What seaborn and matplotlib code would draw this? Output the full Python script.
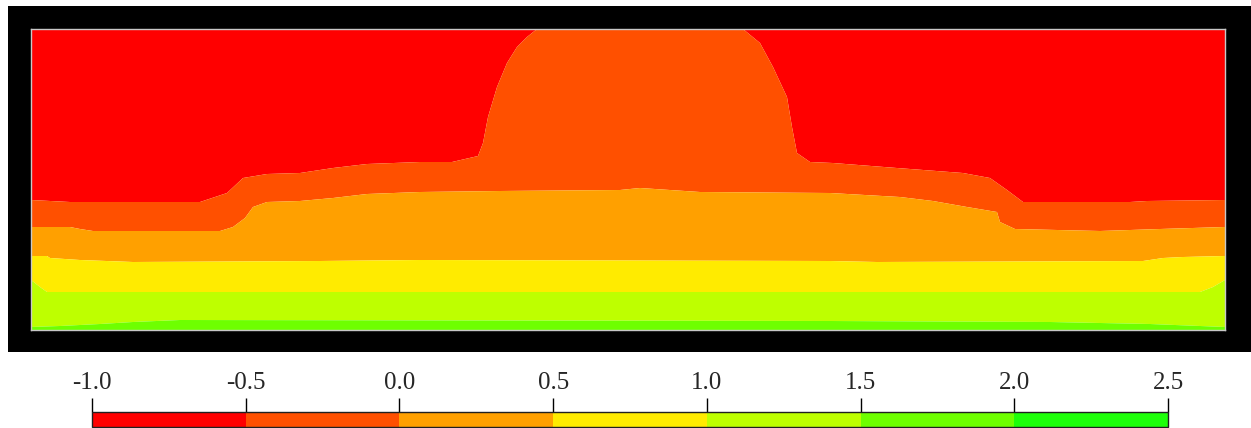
import matplotlib.pyplot as plt
import numpy as np
import seaborn as sns
from matplotlib.cm import ScalarMappable
from matplotlib.colors import BoundaryNorm, ListedColormap

# section extent (distance, depth)
SECTION_WIDTH = 119.4
SECTION_DEPTH = 30.1

LEVELS = [-1.0, -0.5, 0.0, 0.5, 1.0, 1.5, 2.0, 2.5]
BAND_COLORS = ["#ff0000", "#ff5000", "#ffa000", "#ffeb00", "#beff00", "#6eff00", "#1eff0a"]

# depth of each contour line along the section
c_m05_x = [0, 3.9, 16.9, 19.6, 21.2, 23.6, 26.9, 30.2, 33.6, 38.9, 42.1, 44.7, 45.2, 45.7,
           46.6, 47.6, 48.6, 49.6, 50.6, 71.2, 72.9, 74.2, 75.6, 76.1, 76.6, 77.9, 80.2,
           86.6, 93.2, 95.9, 97.6, 99.2, 109.9, 111.6, 119.4]
c_m05_d = [17.1, 17.3, 17.3, 16.4, 14.9, 14.5, 14.4, 13.9, 13.5, 13.3, 13.3, 12.7, 11.4, 8.8,
           5.8, 3.4, 1.8, 0.8, 0.0, 0.0, 1.4, 3.8, 6.8, 9.8, 12.4, 13.3, 13.4,
           13.9, 14.4, 14.9, 16.1, 17.3, 17.3, 17.2, 17.1]

c_0_x = [0, 3.9, 4.9, 6.2, 18.9, 20.2, 21.4, 22.2, 23.6, 26.9, 30.2, 33.6, 38.9, 46.9, 58.9,
         60.9, 63.9, 66.9, 79.9, 86.9, 90.2, 93.6, 96.6, 96.9, 98.4, 106.9, 112.9, 119.4]
c_0_d = [19.8, 19.8, 20.0, 20.2, 20.2, 19.8, 18.9, 17.8, 17.3, 17.2, 16.9, 16.5, 16.3, 16.2, 16.1,
         15.9, 16.1, 16.3, 16.4, 16.8, 17.2, 17.8, 18.3, 19.3, 20.0, 20.2, 20.0, 19.8]

c_05_x = [0, 1.6, 1.9, 4.9, 10.2, 28.9, 38.9, 79.9, 84.6, 111.2, 113.2, 115.2, 119.4]
c_05_d = [22.7, 22.7, 22.9, 23.1, 23.3, 23.2, 23.1, 23.2, 23.3, 23.2, 22.9, 22.8, 22.7]

c_10_x = [0, 0.9, 1.6, 116.9, 118.2, 119.4]
c_10_d = [25.1, 25.8, 26.3, 26.3, 25.8, 25.1]

c_15_x = [0, 2.9, 6.9, 10.2, 14.9, 79.9, 101.9, 111.9, 116.9, 119.4]
c_15_d = [29.8, 29.7, 29.5, 29.3, 29.1, 29.2, 29.3, 29.5, 29.7, 29.8]

sns.set_style("white")
plt.rcParams["font.family"] = ["Liberation Serif", "DejaVu Serif"]
plt.rcParams["axes.unicode_minus"] = False

W, H = 1251, 428
fig = plt.figure(figsize=(W / 100, H / 100), dpi=100)


def px_axes(x0, y0, x1, y1):
    return fig.add_axes([x0 / W, 1 - y1 / H, (x1 - x0) / W, (y1 - y0) / H])


frame = px_axes(8, 6, 1251, 352)
frame.set_facecolor("black")
frame.set_xticks([])
frame.set_yticks([])
for s in frame.spines.values():
    s.set_visible(False)

ax = px_axes(31, 29, 1225, 330)
lines = [
    ([0, SECTION_WIDTH], [0, 0]),
    (c_m05_x, c_m05_d),
    (c_0_x, c_0_d),
    (c_05_x, c_05_d),
    (c_10_x, c_10_d),
    (c_15_x, c_15_d),
    ([0, SECTION_WIDTH], [SECTION_DEPTH, SECTION_DEPTH]),
]
for (xu, du), (xl, dl), color in zip(lines[:-1], lines[1:], BAND_COLORS):
    poly_x = np.concatenate([xu, xl[::-1]])
    poly_d = np.concatenate([du, dl[::-1]])
    ax.fill(poly_x, poly_d, color=color, lw=0)
ax.set_xlim(0, SECTION_WIDTH)
ax.set_ylim(SECTION_DEPTH, 0)
ax.set_xticks([])
ax.set_yticks([])
for s in ax.spines.values():
    s.set_color("#c8c8c8")
    s.set_linewidth(1)

cax = px_axes(92, 412, 1168, 427)
cmap = ListedColormap(BAND_COLORS)
norm = BoundaryNorm(LEVELS, cmap.N)
cb = fig.colorbar(ScalarMappable(norm=norm, cmap=cmap), cax=cax, orientation="horizontal",
                  ticks=LEVELS)
cb.outline.set_edgecolor("#202020")
cb.outline.set_linewidth(1)
cax.xaxis.set_ticks_position("top")
cax.set_xticklabels([f"{v:.1f}" for v in LEVELS])
cax.tick_params(axis="x", direction="out", length=10, width=1, color="black",
                labelsize=18, pad=3)

fig.savefig("out.png", dpi=100)
